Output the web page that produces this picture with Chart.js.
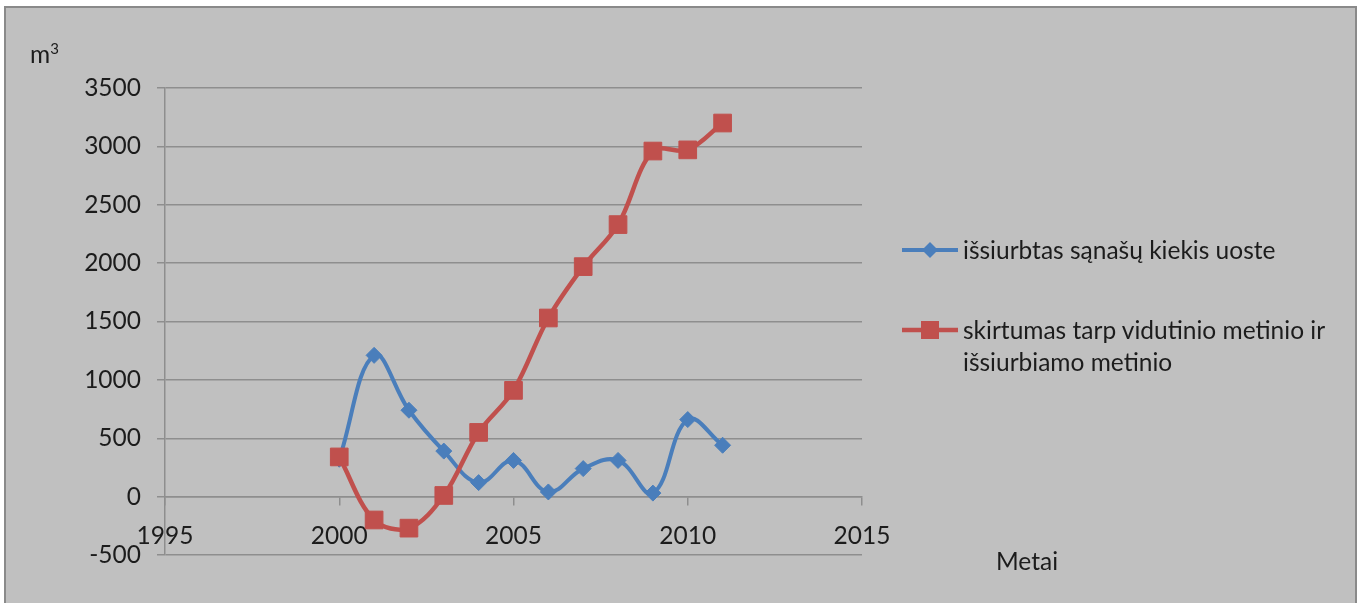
<!DOCTYPE html>
<html>
<head>
<meta charset="utf-8">
<script src="https://cdn.jsdelivr.net/npm/chart.js@4/dist/chart.umd.min.js"></script>
<style>
  body{margin:0;background:#fff;font-family:Lato,"Open Sans",sans-serif;color:#1c1c1c;overflow:hidden}
  .cadre{position:absolute;left:4px;top:6px;width:1353px;height:620px;border:2px solid #8a8a8a;background:#c0c0c0;box-sizing:border-box}
  .zone{position:absolute;left:0;top:0;width:1361px;height:603px}
  .txt{position:absolute;font-size:24.5px;line-height:32px;white-space:nowrap}
  .txt sup{font-size:15px;vertical-align:top;position:relative;top:-6px}
  .leg{position:absolute;left:902px;display:flex;align-items:flex-start}
  .leg svg{flex:none}
  .leg span{margin-left:5px;font-size:24.5px;line-height:32px}
</style>
</head>
<body>
<div class="cadre"></div>
<div class="zone"><canvas id="graphe"></canvas></div>

<div class="txt" style="left:30px;top:38px">m<sup>3</sup></div>
<div class="txt" style="left:996px;top:545px">Metai</div>

<div class="leg" style="top:234px">
  <svg width="56" height="32"><line x1="0" y1="16" x2="56" y2="16" stroke="#4a7ebb" stroke-width="4"/><polygon points="28,8 36,16 28,24 20,16" fill="#4a7ebb"/></svg>
  <span>išsiurbtas sąnašų kiekis uoste</span>
</div>
<div class="leg" style="top:314px">
  <svg width="56" height="32"><line x1="0" y1="16" x2="56" y2="16" stroke="#c0504d" stroke-width="4.5"/><rect x="19" y="7" width="18" height="18" fill="#c0504d"/></svg>
  <span>skirtumas tarp vidutinio metinio ir<br>išsiurbiamo metinio</span>
</div>

<script>
// les données du graphe
const annees = [2000, 2001, 2002, 2003, 2004, 2005, 2006, 2007, 2008, 2009, 2010, 2011]
const issiurbtas = [320, 1210, 740, 390, 120, 310, 40, 240, 310, 30, 660, 440]
const skirtumas = [340, -200, -270, 10, 550, 910, 1530, 1970, 2330, 2960, 2970, 3200]
const ticksX = [1995, 2000, 2005, 2010, 2015]
const ticksY = [-500, 0, 500, 1000, 1500, 2000, 2500, 3000, 3500]

const grille = '#8e8e8e'
const police = {family: 'Lato, "Open Sans", sans-serif', size: 24.5}

const graphe = document.querySelector('#graphe')
if(graphe){
    const lineChart = new Chart(graphe, {
        type: 'line',
        data: {
            datasets: [{
                label: 'išsiurbtas sąnašų kiekis uoste',
                data: annees.map((a, i) => ({x: a, y: issiurbtas[i]})),
                borderColor: '#4a7ebb',
                backgroundColor: '#4a7ebb',
                borderWidth: 4,
                tension: 0.4,
                pointStyle: 'rectRot',
                pointRadius: 8,
                pointBorderWidth: 1,
                order: 2
            }, {
                label: 'skirtumas tarp vidutinio metinio ir išsiurbiamo metinio',
                data: annees.map((a, i) => ({x: a, y: skirtumas[i]})),
                borderColor: '#c0504d',
                backgroundColor: '#c0504d',
                borderWidth: 4.5,
                tension: 0.35,
                pointStyle: 'rect',
                pointRadius: 12.5,
                pointBorderWidth: 1,
                order: 1
            }]
        },
        options: {
            responsive: true,
            maintainAspectRatio: false,
            animation: false,
            layout: {padding: {left: 0, right: 499, top: 88, bottom: 48}},
            plugins: {legend: {display: false}, tooltip: {enabled: false}},
            scales: {
                x: {
                    type: 'linear',
                    min: 1995,
                    max: 2015,
                    position: {y: 0},
                    afterBuildTicks: axis => { axis.ticks = ticksX.map(v => ({value: v})) },
                    grid: {drawOnChartArea: false, color: grille, tickLength: 8, lineWidth: 1.5},
                    border: {color: grille, width: 1.5},
                    ticks: {font: police, color: '#1c1c1c', padding: 17, maxRotation: 0, callback: v => String(v)}
                },
                y: {
                    min: -500,
                    max: 3500,
                    afterBuildTicks: axis => { axis.ticks = ticksY.map(v => ({value: v})) },
                    afterFit: axis => { axis.width = 165 },
                    grid: {color: grille, tickLength: 8, lineWidth: 1.5},
                    border: {color: grille, width: 1.5},
                    ticks: {font: police, color: '#1c1c1c', padding: 16, callback: v => String(v)}
                }
            }
        }
    })
}
</script>
</body>
</html>
